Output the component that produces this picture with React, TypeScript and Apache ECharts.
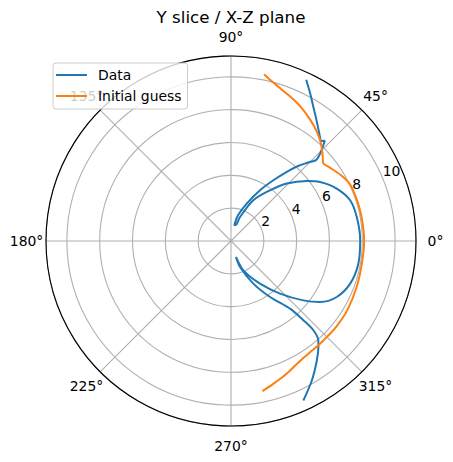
import React, { useEffect, useRef } from "react";
import * as echarts from "echarts";

const titleText = "Y slice / X-Z plane";
const seriesNames = ["Data", "Initial guess"];
const angleTicks = [0, 45, 90, 135, 180, 225, 270, 315];
const radiusTicks = [2, 4, 6, 8, 10];
const rMax = 11.27;

// Data curve (angle in degrees, radius)
const dataTheta = [65.0, 62.0, 58.7, 55.0, 50.9, 47.9, 46.9, 45.9, 44.3, 43.6, 45.5, 48.2, 50.8, 55.1, 60.2, 67.2, 74.8, 78.1, 71.8, 69.4, 61.3, 52.4, 45.9, 38.4, 33.5, 26.4, 18.9, 10.8, 0.3, 349.9, 340.3, 332.1, 325.6, 320.6, 313.0, 304.2, 292.8, 287.4, 289.1, 297.6, 304.9, 311.1, 312.4, 312.7, 311.3, 309.5, 305.7, 300.1, 294.4];
const dataR = [10.84, 10.24, 9.63, 9.06, 8.51, 8.22, 8.36, 8.06, 7.56, 7.15, 6.7, 6.13, 5.5, 4.51, 3.56, 2.47, 1.62, 0.98, 1.07, 1.56, 2.83, 3.9, 4.88, 5.89, 6.51, 7.19, 7.67, 7.8, 7.87, 7.88, 7.71, 7.29, 6.58, 5.7, 4.38, 3.14, 1.94, 1.02, 1.68, 2.93, 4.16, 5.47, 6.54, 7.4, 8.06, 8.37, 8.96, 9.82, 10.67];

// Initial guess curve
const guessTheta = [78.8, 75.9, 71.7, 67.2, 62.2, 57.1, 52.2, 47.6, 44.0, 40.4, 39.5, 36.6, 31.0, 25.8, 20.5, 14.5, 8.0, 0, 350.2, 339.9, 329.4, 320.9, 312.9, 307, 301.9, 298, 294, 290, 286, 281.8];
const guessR = [10.36, 10.06, 9.74, 9.48, 9.19, 8.84, 8.49, 8.11, 7.74, 7.37, 7.35, 7.5, 7.8, 8.02, 8.06, 8.08, 8.09, 8.11, 8.09, 8.15, 8.24, 8.27, 8.27, 8.3, 8.37, 8.5, 8.7, 8.9, 9.1, 9.34];

const FONT = "DejaVu Sans";
const FS = 13.9;

export default function App() {
  const ref = useRef<HTMLDivElement>(null);
  useEffect(() => {
    if (!ref.current) return;
    const chart = echarts.init(ref.current, undefined, { renderer: "svg" });
    const center = [231, 241];
    const radius = 185;
    const base = { fontFamily: FONT, fontSize: FS, color: "#000" };
    const rich: any = {
      a0: { ...base, padding: [0, 0, 0, 16.6] },
      a45: { ...base, padding: [0, 0, 10.3, 5] },
      a90: { ...base, padding: [0, 0, 17.5, 0] },
      a135: { ...base, padding: [0, 0.5, 10.3, 0] },
      a180: { ...base, padding: [0, 7.7, 0, 0] },
      a225: { ...base, padding: [10.3, 0.5, 0, 0] },
      a270: { ...base, padding: [17.5, 0, 0, 0] },
      a315: { ...base, padding: [10.3, 0, 0, 0.5] },
    };
    const dataPts = dataR.map((r, i) => [r, dataTheta[i]]);
    const guessPts = guessR.map((r, i) => [r, guessTheta[i]]);
    chart.setOption({
      animation: false,
      title: {
        text: titleText,
        left: 231,
        top: 8,
        padding: 0,
        textAlign: "center",
        textStyle: { fontFamily: FONT, fontSize: 16.7, fontWeight: "normal", color: "#000" },
      },
      legend: {
        orient: "vertical",
        left: 53,
        top: 63,
        padding: [5, 6, 6, 3],
        icon: "rect",
        itemWidth: 31,
        itemHeight: 2,
        itemGap: 7,
        backgroundColor: "rgba(255,255,255,0.8)",
        borderColor: "#cccccc",
        borderWidth: 1,
        borderRadius: 3,
        textStyle: { fontFamily: FONT, fontSize: FS, color: "#000", padding: [0, 0, 0, 6] },
        data: seriesNames,
        z: 10,
      },
      polar: [
        { center, radius: [0, radius] },
        { center, radius: [0, radius] },
      ],
      angleAxis: [
        {
          polarIndex: 0,
          type: "value",
          min: 0,
          max: 360,
          interval: 45,
          startAngle: 0,
          clockwise: false,
          axisLine: { show: true, lineStyle: { color: "#000", width: 1.1 } },
          axisTick: { show: false },
          splitLine: { show: true, lineStyle: { color: "#b0b0b0", width: 1.1 } },
          axisLabel: {
            show: true,
            margin: -5,
            fontFamily: FONT,
            fontSize: FS,
            color: "#000",
            rich,
            formatter: (v: number) => (angleTicks.indexOf(v) >= 0 ? `{a${v}|${v}°}` : ""),
          },
        },
        {
          polarIndex: 1,
          type: "value",
          min: 0,
          max: 360,
          startAngle: 22.5,
          clockwise: false,
          show: false,
        },
      ],
      radiusAxis: [
        {
          polarIndex: 0,
          type: "value",
          min: 0,
          max: rMax,
          interval: 2,
          axisLine: { show: false },
          axisTick: { show: false },
          axisLabel: { show: false },
          splitLine: { show: true, lineStyle: { color: "#b0b0b0", width: 1.1 } },
        },
        {
          polarIndex: 1,
          type: "value",
          min: 0,
          max: rMax,
          interval: 2,
          axisLine: { show: false },
          axisTick: { show: false },
          splitLine: { show: false },
          axisLabel: {
            show: true,
            margin: 0,
            align: "left",
            verticalAlign: "bottom",
            fontFamily: FONT,
            fontSize: FS,
            color: "#000",
            formatter: (v: number) => (radiusTicks.indexOf(v) >= 0 ? String(v) : ""),
          },
        },
      ],
      series: [
        {
          name: seriesNames[0],
          type: "line",
          coordinateSystem: "polar",
          polarIndex: 0,
          data: dataPts,
          symbol: "none",
          smooth: 0.3,
          lineStyle: { color: "#1f77b4", width: 2 },
          itemStyle: { color: "#1f77b4" },
        },
        {
          name: seriesNames[1],
          type: "line",
          coordinateSystem: "polar",
          polarIndex: 0,
          data: guessPts,
          symbol: "none",
          smooth: 0.3,
          lineStyle: { color: "#ff7f0e", width: 2 },
          itemStyle: { color: "#ff7f0e" },
        },
      ],
    });
    return () => chart.dispose();
  }, []);
  return (
    <div
      ref={ref}
      style={{ position: "absolute", left: 0, top: 0, width: 453, height: 462 }}
    />
  );
}
